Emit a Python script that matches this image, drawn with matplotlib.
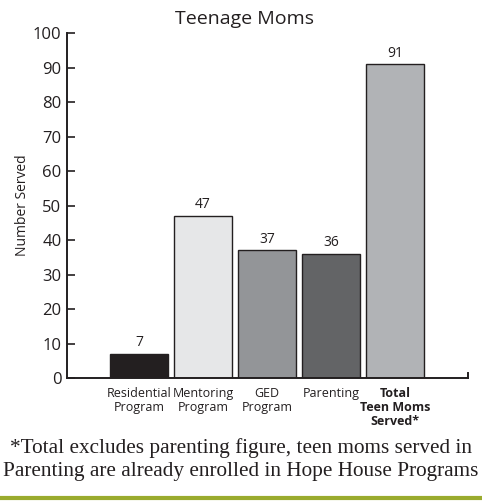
import matplotlib
matplotlib.use("Agg")
import matplotlib.pyplot as plt

# ============================================
# Data
# ============================================

categories = [
    "Residential\nProgram",
    "Mentoring\nProgram",
    "GED\nProgram",
    "Parenting",
    "Total\nTeen Moms\nServed*",
]
values = [7, 47, 37, 36, 91]
bar_colors = ["#231f20", "#e6e7e8", "#939598", "#636466", "#b1b3b6"]
y_ticks = [0, 10, 20, 30, 40, 50, 60, 70, 80, 90, 100]

footnote = ("*Total excludes parenting figure, teen moms served in\n"
            "Parenting are already enrolled in Hope House Programs")

# ============================================
# Figure
# ============================================

plt.rcParams["font.family"] = ["Open Sans", "DejaVu Sans"]

fig = plt.figure(figsize=(4.82, 5.01), dpi=100)
ax = fig.add_axes([0.139, 0.2455, 0.832, 0.6885])

x = list(range(len(values)))
ax.bar(x, values, width=0.906, color=bar_colors,
       edgecolor="#231f20", linewidth=1.0)

for i, v in enumerate(values):
    ax.text(i, v + 1.0, str(v), ha="center", va="bottom",
            fontsize=10, color="#231f20")

ax.set_xlim(-1.125, 5.14)
ax.set_ylim(0, 100)
ax.set_yticks(y_ticks)
ax.tick_params(axis="y", direction="in", length=6, width=1.2,
               labelsize=12, colors="#231f20", pad=4)
ax.set_xticks([])

for side in ["top", "right"]:
    ax.spines[side].set_visible(False)
ax.spines["left"].set_linewidth(1.4)
ax.spines["bottom"].set_linewidth(1.4)
ax.spines["left"].set_color("#231f20")
ax.spines["bottom"].set_color("#231f20")

# small tick at the right end of the x axis
ax.plot([5.14, 5.14], [0, 1.5], color="#231f20", linewidth=1.4,
        clip_on=False)

ax.set_ylabel("Number Served", fontsize=10, color="#231f20", labelpad=2)

fig.text(0.508, 0.962, "Teenage Moms", ha="center", va="center",
         fontsize=14, color="#231f20")

for i, lab in enumerate(categories):
    weight = "bold" if i == len(categories) - 1 else "normal"
    ax.text(i, -2.5, lab, ha="center", va="top", fontsize=9,
            fontweight=weight, color="#231f20", linespacing=1.1)

fig.text(0.5, 0.082, footnote, ha="center", va="center",
         fontsize=15.3, family="Liberation Serif", color="#231f20",
         linespacing=1.3)

# green rule at the bottom
fig.add_artist(plt.Line2D([0, 1], [0.006, 0.006], color="#9aab2e",
                          linewidth=3, transform=fig.transFigure))

plt.savefig("out.png", dpi=100)
